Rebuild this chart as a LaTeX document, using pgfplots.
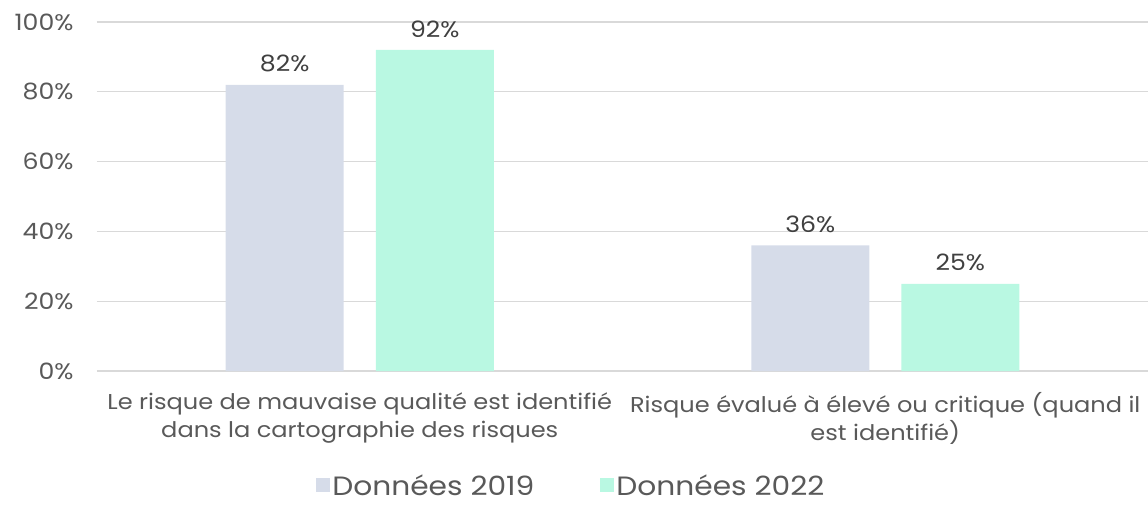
\documentclass[border=0pt]{standalone}
\usepackage{pgfplots}
\pgfplotsset{compat=1.18}
\usepackage{fontspec}
\setmainfont{Poppins}[FakeStretch=1.12]
\definecolor{c2019}{HTML}{D6DCE9}
\definecolor{c2022}{HTML}{B9F8E2}
\definecolor{gridc}{HTML}{D9D9D9}
\definecolor{ticktxt}{HTML}{595959}
\definecolor{lbltxt}{HTML}{404040}
\begin{document}
\begin{tikzpicture}
\useasboundingbox (-97bp,-135bp) rectangle (1051bp,371bp);
\begin{axis}[
  at={(0,0)}, anchor=south west,
  scale only axis,
  width=1051bp, height=349bp,
  ymin=0, ymax=100,
  xmin=-0.5, xmax=1.5,
  ybar=32bp, bar width=118bp,
  axis line style={draw=none},
  ymajorgrids, grid style={gridc, line width=1.2bp},
  major tick length=0pt,
  ytick={0,20,40,60,80,100},
  yticklabel={\pgfmathprintnumber{\tick}\%},
  /pgf/number format/assume math mode=true,
  yticklabel style={font=\fontsize{22.5bp}{26bp}\selectfont, text=ticktxt, xshift=-20bp},
  xtick={0,1},
  xticklabels={{Le risque de mauvaise qualité est identifié\\dans la cartographie des risques},{Risque évalué à élevé ou critique (quand il\\est identifié)}},
  xticklabel style={font=\fontsize{21.5bp}{28bp}\selectfont, text=ticktxt, align=center, yshift=-18bp},
  nodes near coords={\pgfmathprintnumber{\pgfplotspointmeta}\%},
  nodes near coords style={font=\fontsize{22.5bp}{26bp}\selectfont, text=lbltxt, yshift=9bp},
  legend style={at={(0.2085,-0.328)}, anchor=west, draw=none, fill=none, inner sep=0pt,
    nodes={inner ysep=0.5bp},
    legend columns=2, font=\fontsize{26.5bp}{29bp}\selectfont, text=ticktxt,
    /tikz/every even column/.append style={column sep=64bp}},
  legend image code/.code={\fill[#1] (0bp,-7bp) rectangle (14bp,7bp);},
  clip=false,
]
\addplot[fill=c2019, draw=none] coordinates {(0,82) (1,36)};
\addplot[fill=c2022, draw=none] coordinates {(0,92) (1,25)};
\legend{Données 2019, Données 2022}
\end{axis}
\end{tikzpicture}
\end{document}
